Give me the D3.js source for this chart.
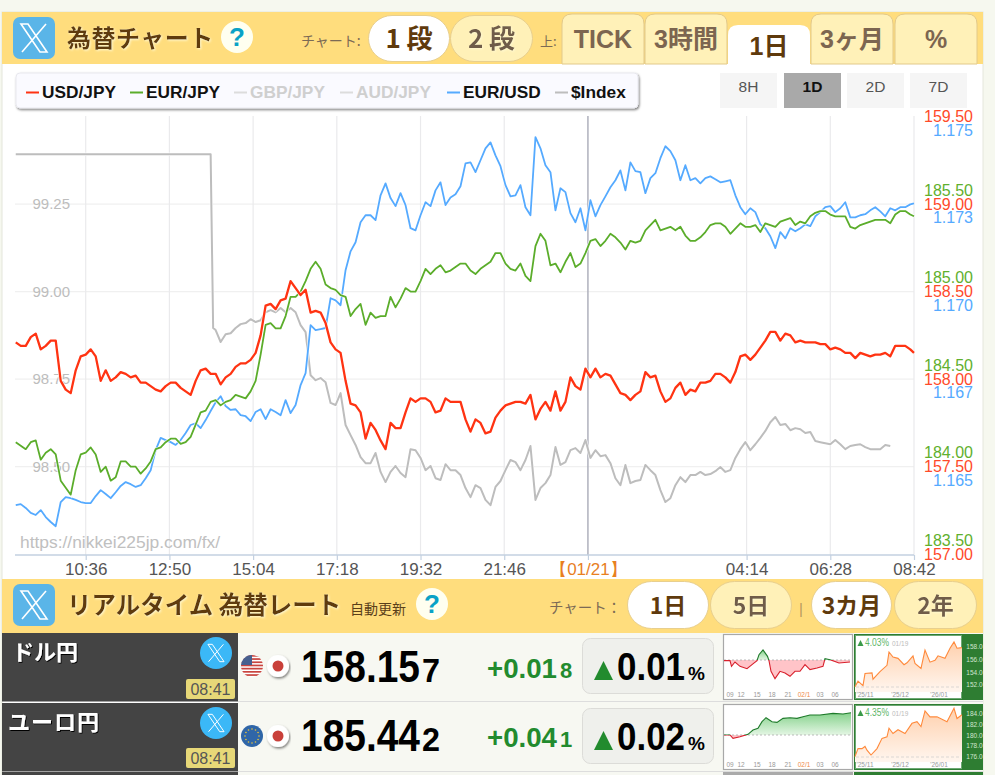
<!DOCTYPE html>
<html lang="ja"><head><meta charset="utf-8">
<script src="https://cdn.jsdelivr.net/npm/d3@7"></script>
<style>html,body{margin:0;padding:0;background:#f6f8ef;overflow:hidden}svg{display:block}</style>
</head><body><div id="c"></div>
<script>
// ---------- data ----------
const sampleMinutes = [...d3.range(2, 1440, 8), 1440];
const usdJpy = [158.21,158.19,158.19,158.24,158.26,158.17,158.19,158.22,158.22,157.99,157.94,157.92,158.05,158.13,158.14,158.17,158.13,157.99,158.05,157.99,158.01,158.04,158.03,158.01,158.02,157.98,157.98,157.96,157.94,157.93,157.96,157.98,157.98,157.95,157.93,157.91,157.99,158.05,158.06,158.03,158.03,157.97,158.01,158.03,158.07,158.09,158.09,158.11,158.15,158.25,158.42,158.43,158.40,158.45,158.46,158.56,158.52,158.48,158.51,158.38,158.39,158.38,158.32,158.21,158.17,158.15,157.99,157.86,157.85,157.81,157.66,157.75,157.71,157.65,157.60,157.75,157.72,157.72,157.81,157.89,157.87,157.89,157.89,157.87,157.81,157.82,157.89,157.87,157.87,157.87,157.77,157.70,157.77,157.75,157.69,157.70,157.78,157.82,157.85,157.86,157.87,157.87,157.86,157.91,157.77,157.83,157.87,157.82,157.93,157.82,157.87,158.01,157.96,157.94,158.06,158.01,158.06,158.01,158.03,158.02,157.97,157.92,157.91,157.88,157.91,157.93,158.04,158.01,158.02,157.93,157.87,157.89,157.95,157.98,157.91,157.94,157.93,157.98,157.98,157.99,158.03,158.03,158.01,157.98,158.04,158.13,158.14,158.11,158.14,158.18,158.22,158.27,158.27,158.22,158.26,158.25,158.21,158.22,158.21,158.21,158.21,158.20,158.20,158.17,158.18,158.17,158.15,158.15,158.12,158.15,158.14,158.13,158.14,158.14,158.15,158.13,158.19,158.19,158.19,158.17,158.15];
const eurJpy = [184.14,184.12,184.10,184.14,184.15,184.04,184.08,184.10,184.07,183.92,183.88,183.84,183.98,184.07,184.08,184.11,184.07,183.97,184.00,183.92,183.94,184.03,184.03,184.00,184.00,183.96,183.99,184.03,184.10,184.11,184.14,184.16,184.16,184.13,184.14,184.17,184.24,184.31,184.32,184.37,184.38,184.35,184.37,184.38,184.41,184.40,184.39,184.43,184.49,184.64,184.81,184.82,184.79,184.79,184.86,184.97,184.97,185.00,185.06,185.13,185.17,185.13,185.04,185.02,185.01,184.98,184.97,184.86,184.90,184.93,184.81,184.88,184.85,184.86,184.86,184.97,184.91,184.96,185.02,185.00,185.00,185.06,185.13,185.10,185.13,185.15,185.11,185.12,185.14,185.16,185.16,185.12,185.10,185.13,185.15,185.17,185.22,185.22,185.16,185.13,185.12,185.16,185.09,185.06,185.26,185.33,185.29,185.15,185.16,185.11,185.17,185.22,185.14,185.16,185.22,185.29,185.30,185.26,185.29,185.33,185.31,185.28,185.24,185.29,185.28,185.29,185.35,185.38,185.41,185.35,185.36,185.37,185.35,185.37,185.32,185.29,185.29,185.31,185.34,185.38,185.39,185.39,185.37,185.33,185.36,185.39,185.37,185.37,185.38,185.34,185.39,185.38,185.37,185.40,185.41,185.42,185.38,185.40,185.39,185.43,185.45,185.46,185.46,185.44,185.43,185.43,185.43,185.37,185.36,185.38,185.39,185.40,185.41,185.41,185.41,185.39,185.44,185.46,185.46,185.44,185.43];
const eurUsd = [1.16390,1.16393,1.16382,1.16368,1.16362,1.16376,1.16356,1.16342,1.16330,1.16399,1.16413,1.16410,1.16405,1.16399,1.16396,1.16396,1.16416,1.16433,1.16422,1.16410,1.16427,1.16445,1.16456,1.16450,1.16442,1.16447,1.16467,1.16490,1.16547,1.16582,1.16576,1.16570,1.16562,1.16576,1.16596,1.16619,1.16624,1.16610,1.16633,1.16659,1.16684,1.16701,1.16673,1.16662,1.16664,1.16647,1.16644,1.16630,1.16656,1.16664,1.16636,1.16664,1.16656,1.16647,1.16690,1.16653,1.16676,1.16733,1.16767,1.16904,1.16890,1.16893,1.16896,1.16981,1.16975,1.16961,1.17061,1.17115,1.17141,1.17198,1.17218,1.17218,1.17204,1.17275,1.17309,1.17267,1.17244,1.17281,1.17247,1.17181,1.17175,1.17218,1.17255,1.17244,1.17289,1.17312,1.17247,1.17269,1.17278,1.17301,1.17366,1.17369,1.17341,1.17375,1.17409,1.17426,1.17389,1.17358,1.17304,1.17272,1.17275,1.17304,1.17241,1.17218,1.17441,1.17409,1.17361,1.17341,1.17232,1.17295,1.17284,1.17224,1.17198,1.17238,1.17175,1.17261,1.17215,1.17247,1.17272,1.17298,1.17318,1.17346,1.17289,1.17369,1.17344,1.17341,1.17281,1.17324,1.17338,1.17381,1.17415,1.17401,1.17375,1.17318,1.17361,1.17318,1.17324,1.17309,1.17324,1.17329,1.17321,1.17312,1.17315,1.17318,1.17275,1.17241,1.17221,1.17238,1.17227,1.17192,1.17181,1.17158,1.17124,1.17170,1.17152,1.17181,1.17172,1.17181,1.17192,1.17187,1.17215,1.17227,1.17241,1.17244,1.17227,1.17238,1.17255,1.17212,1.17212,1.17218,1.17221,1.17232,1.17241,1.17229,1.17215,1.17238,1.17232,1.17241,1.17241,1.17249,1.17252];
const indexStepMinutes = [2, 314, 318];
const indexStepValues = [99.392, 99.392, 98.896];
const indexFirstSample = 40;
const dollarIndex = [98.890,98.856,98.878,98.881,98.896,98.907,98.910,98.921,98.913,98.918,98.941,98.947,98.941,98.953,98.941,98.953,98.941,98.904,98.884,98.761,98.747,98.753,98.741,98.682,98.676,98.710,98.619,98.590,98.562,98.527,98.510,98.510,98.539,98.485,98.456,98.485,98.502,98.482,98.470,98.550,98.547,98.525,98.490,98.502,98.467,98.462,98.507,98.490,98.490,98.476,98.439,98.413,98.447,98.439,98.405,98.390,98.442,98.459,98.490,98.519,98.513,98.490,98.519,98.559,98.405,98.439,98.453,98.476,98.556,98.505,98.513,98.547,98.553,98.539,98.576,98.525,98.547,98.530,98.533,98.510,98.467,98.447,98.505,98.453,98.459,98.462,98.505,98.490,98.476,98.433,98.399,98.410,98.447,98.470,98.456,98.476,98.476,98.485,98.476,98.479,98.487,98.499,98.485,98.490,98.525,98.550,98.570,98.547,98.564,98.582,98.602,98.627,98.642,98.619,98.622,98.604,98.610,98.607,98.596,98.599,98.573,98.570,98.567,98.564,98.576,98.564,98.550,98.559,98.562,98.564,98.556,98.550,98.550,98.550,98.562,98.559];
const xTickMinutes = [114, 248, 382, 516, 650, 784, 918, 1172, 1306, 1440];
const xTickLabels = ["10:36","12:50","15:04","17:18","19:32","21:46","【01/21】","04:14","06:28","08:42"];
const indexTicks = [99.25, 99.00, 98.75, 98.50];
const usdTicks = [159.5, 159, 158.5, 158, 157.5, 157];
const eurTicks = [185.5, 185, 184.5, 184, 183.5];
const eurUsdTicks = [1.175, 1.1725, 1.17, 1.1675, 1.165];
const eurUsdTickLabels = ["1.175","1.173","1.170","1.167","1.165"];
const legendNames = ["USD/JPY","EUR/JPY","GBP/JPY","AUD/JPY","EUR/USD","$Index"];
const rangeNames = ["8H","1D","2D","7D"];
const pairNames = ["ドル円","ユーロ円"];
const pairTimes = ["08:41","08:41"];
const priceMain = ["158.15","185.44"];
const priceTail = ["7","2"];
const changeMain = ["+0.01","+0.04"];
const changeTail = ["8","1"];
const percentChange = ["0.01","0.02"];
const dayIdx1 = [0,6,7.5,11,16,23,28,33,35,39,43.5,45,47,51,56,61,66,71,76,81,86,93,99,101,106,115,126];
const dayVal1 = [-0.02,-0.02,-0.19,-0.06,-0.19,-0.26,-0.14,-0.02,0.16,0.30,0.11,-0.02,-0.34,-0.56,-0.34,-0.39,-0.49,-0.34,-0.34,-0.14,-0.29,-0.24,-0.19,0.04,0.01,-0.09,-0.06];
const dayIdx2 = [0,6,9,16,24,29,34,38,42,48,53,59,66,73,79,86,96,109,119,127];
const dayVal2 = [0,0,-0.1,-0.05,0.02,0.15,0.2,0.4,0.52,0.4,0.38,0.5,0.52,0.5,0.55,0.6,0.6,0.65,0.63,0.67];
const dayAxisLabels = ["09","12","15","18","21","02/1","03","06"];
const dayAxisIdx = [6,17,33,48,64,80,96,111];
const monthIdx1 = [0,3,8,10,17,18,25,32,34,38,43,49,52,58,60,66,70,75,80,83,90,95,99,102,107];
const monthVal1 = [151.7,152.6,151.9,153.8,153.9,152.9,154.1,155.1,157.2,156.4,156.2,155.2,155.5,156.6,155.4,154.6,157.5,155.6,155.9,156.6,156.2,157.8,158.8,157.8,157.9];
const monthIdx2 = [0,3,7,10,12,16,22,27,32,34,38,43,50,57,62,66,70,75,82,92,99,102,107];
const monthVal2 = [176.0,177.5,177.5,177.9,177.2,176.3,177.5,179.4,179.7,181.3,180.3,181.0,180.3,182.2,182.5,181.6,184.5,183.4,183.4,182.5,185.0,183.1,183.8];
const monthTicks = [[158,156,154,152],[184,182,180,178,176]];
const monthDomains = [[150,160],[174,186]];
const monthPct = ["4.03%","4.35%"];
const monthAxisLabels = ["'25/11","'25/12","'26/01"];
const monthAxisIdx = [10,45,84];

// ---------- page ----------
const JP = "'Noto Sans CJK JP','Noto Sans',sans-serif", LAT = "'Liberation Sans',Arial,sans-serif";
const BAND = "#ffdd7d", PALE = "#fff1b8", BROWN = "#5f3a0c";
const svg = d3.select("#c").append("svg").attr("width",995).attr("height",775);
const defs = svg.append("defs");
const glow = defs.append("filter").attr("id","glow").attr("x","-10%").attr("y","-20%").attr("width","120%").attr("height","140%");
glow.append("feDropShadow").attr("dx",1).attr("dy",1).attr("stdDeviation",0.8).attr("flood-color","#fff8d0").attr("flood-opacity",1);
const sh = defs.append("filter").attr("id","sh").attr("x","-5%").attr("y","-10%").attr("width","110%").attr("height","125%");
sh.append("feDropShadow").attr("dx",1).attr("dy",1.5).attr("stdDeviation",0.8).attr("flood-color","#000").attr("flood-opacity",.5);
const dk = defs.append("filter").attr("id","dk").attr("x","-5%").attr("y","-10%").attr("width","110%").attr("height","120%");
dk.append("feDropShadow").attr("dx",1).attr("dy",1).attr("stdDeviation",0.3).attr("flood-color","#000").attr("flood-opacity",1);

function T(x,y,s,o={}){
  const t = (o.g||svg).append("text").attr("x",x).attr("y",y).text(s)
    .attr("font-family",o.f||LAT).attr("font-size",o.s||14).attr("font-weight",o.w||400)
    .attr("fill",o.c||"#333").attr("text-anchor",o.a||"start");
  if(o.ls!==undefined) t.attr("letter-spacing",o.ls);
  if(o.tl) t.attr("textLength",o.tl).attr("lengthAdjust","spacingAndGlyphs");
  if(o.fl) t.attr("filter",`url(#${o.fl})`);
  return t;
}
function R(x,y,w,h,c,o={}){
  const r=(o.g||svg).append("rect").attr("x",x).attr("y",y).attr("width",w).attr("height",h).attr("fill",c);
  if(o.rx) r.attr("rx",o.rx);
  if(o.st) r.attr("stroke",o.st).attr("stroke-width",o.sw||1);
  if(o.fl) r.attr("filter",`url(#${o.fl})`);
  return r;
}
function xIcon(cx,cy,k){
  const g=svg.append("g").attr("transform",`translate(${cx},${cy}) scale(${k})`).attr("fill","none").attr("stroke","#fff");
  g.append("path").attr("d","M-13,-14 L-6,-14 L13,14 L6,14 Z").attr("stroke-width",1.6);
  g.append("path").attr("d","M12,-14 L-12,14").attr("stroke-width",1.6);
}
function pill(x,y,w,h,active,label,size){
  R(x+.5,y+.5,w-1,h-1,active?"#fff":PALE,{rx:h/2,st:"#e8cf8e"});
  T(x+w/2,y+h/2+size*.37,label,{a:"middle",s:size,w:700,f:JP,c:active?BROWN:"#6f5c48",fl:active?null:"glow"});
}
function tab(x,y,w,h,active,label){
  const r=10;
  svg.append("path").attr("d",`M${x},${y+h}V${y+r}Q${x},${y} ${x+r},${y}H${x+w-r}Q${x+w},${y} ${x+w},${y+r}V${y+h}Z`)
    .attr("fill",active?"#fff":PALE).attr("stroke",active?"none":"#e2c98a");
  T(x+w/2,y+h/2+(active?10:9),label,{a:"middle",s:25,w:700,f:JP.replace("'Noto","'Liberation Sans','Noto"),c:active?BROWN:"#7c6550"});
}
function help(cx,cy){
  svg.append("circle").attr("cx",cx).attr("cy",cy).attr("r",16).attr("fill","#fffff0");
  T(cx,cy+9,"?",{a:"middle",s:26,w:700,c:"#0aa2c6"});
}

// panel + headers
R(2,12,981,763,"#fff",{st:"#e4e6dc"});
R(2,12,981,52,BAND);
R(2,579,981,54,BAND);
R(13,17,42,42,"#5ab5e8",{rx:7}); xIcon(34,38,1);
T(67,47,"為替チャート",{s:24,w:700,f:JP,c:BROWN,ls:0.5,fl:"glow"});
help(237,37);
T(301,46,"チャート:",{s:14,f:JP,c:"#7c6a55"});
pill(368,15,82,47,true,"1 段",26);
pill(450,15,83,47,false,"2 段",26);
T(540,46,"上:",{s:13,f:JP,c:"#7c6a55"});
tab(562,14,82,50,false,"TICK");
tab(645,14,82,50,false,"3時間");
tab(728,25,82,39,true,"1日");
tab(811,14,82,50,false,"3ヶ月");
tab(895,14,82,50,false,"%");

// scales
const x = d3.scaleLinear().domain([0,1440]).range([14.5,914]);
const yUsd = d3.scaleLinear().domain([157,159.5]).range([554.2,116.5]);
const yEur = d3.scaleLinear().domain([183.5,186]).range([554.2,116.5]);
const yEu = d3.scaleLinear().domain([1.1625,1.175]).range([554.2,116.5]);
const yIdx = d3.scaleLinear().domain([98.25,99.5]).range([554.2,116.5]);

// grid
const grid = svg.append("g");
grid.selectAll("line.h").data(usdTicks).join("line").attr("x1",15).attr("x2",914)
  .attr("y1",d=>yUsd(d)).attr("y2",d=>yUsd(d)).attr("stroke",d=>d===159.5||d===157?"none":"#f0f0f0").attr("stroke-width",1.2);
grid.selectAll("line.v").data(xTickMinutes).join("line").attr("x1",d=>x(d)).attr("x2",d=>x(d))
  .attr("y1",116).attr("y2",555).attr("stroke",(d,i)=>i===6?"#a9abb8":"#eaeaec").attr("stroke-width",(d,i)=>i===6?1.4:1.2);

// x axis
const ax = svg.append("g").attr("transform","translate(0,555)")
  .call(d3.axisBottom(x).tickValues(xTickMinutes).tickFormat((d,i)=>xTickLabels[i]).tickSize(5));
ax.select(".domain").attr("stroke","#c3d0e0").attr("stroke-width",1.5).attr("d","M15,0H914");
ax.selectAll(".tick line").attr("stroke","#c3d0e0").attr("stroke-width",1.2);
ax.selectAll("text").attr("font-family",LAT).attr("font-size",17).attr("fill",(d,i)=>i===6?"#e8801f":"#555").attr("y",6).attr("dy",".85em");

// index axis labels + watermark
T(20,548,"https://nikkei225jp.com/fx/",{s:17.4,c:"#c0c0c0"});
indexTicks.forEach(d=>T(70,yIdx(d)+5,d.toFixed(2),{a:"end",s:15,c:"#bdbdbd"}));
// right axis labels
usdTicks.forEach(d=>T(973,yUsd(d)+5.5,d.toFixed(2),{a:"end",s:16,c:"#ff4a2a"}));
eurTicks.forEach(d=>T(973,yEur(d)-8.5,d.toFixed(2),{a:"end",s:16,c:"#5fb02e"}));
eurUsdTicks.forEach((d,i)=>T(973,yEu(d)+19,eurUsdTickLabels[i],{a:"end",s:16,c:"#55aaff"}));

// lines
const zip=(ts,vs)=>vs.map((v,i)=>[ts[i],v]);
const indexPts = zip(indexStepMinutes,indexStepValues).concat(zip(sampleMinutes.slice(indexFirstSample),dollarIndex));
const series = [
 {pts:indexPts,y:yIdx,c:"#bdbdbd",w:2},
 {pts:zip(sampleMinutes,eurUsd),y:yEu,c:"#55aaff",w:1.8},
 {pts:zip(sampleMinutes,eurJpy),y:yEur,c:"#5bad2b",w:1.8},
 {pts:zip(sampleMinutes,usdJpy),y:yUsd,c:"#ff3312",w:2.3}
];
const plot = svg.append("g");
series.forEach(s=>{
  const gen=d3.line().x(d=>x(d[0])).y(d=>s.y(d[1]));
  plot.append("path").attr("d",gen(s.pts)).attr("fill","none").attr("stroke","#fff").attr("stroke-width",s.w+1.4).attr("stroke-opacity",.8);
  plot.append("path").attr("d",gen(s.pts)).attr("fill","none").attr("stroke",s.c).attr("stroke-width",s.w).attr("stroke-linejoin","round");
});

// legend
R(16,73,622,35,"#fafaff",{rx:4,st:"#e8e8ee",fl:"sh"});
const legX=[42,146,250,356,463,571], legC=["#ff3312","#5bad2b","#dcdcdc","#dcdcdc","#55aaff","#bdbdbd"];
legendNames.forEach((n,i)=>{
  svg.append("line").attr("x1",legX[i]-16).attr("x2",legX[i]-3).attr("y1",92.5).attr("y2",92.5).attr("stroke",legC[i]).attr("stroke-width",2);
  T(legX[i],98,n,{s:17.3,w:700,c:(i===2||i===3)?"#cfcfcf":"#111"});
});
// range buttons
const rbX=[720,784,847,910];
rangeNames.forEach((n,i)=>{
  R(rbX[i],73,57,35,i===1?"#a9a9a9":"#f5f5f5");
  T(rbX[i]+28.5,92,n,{a:"middle",s:15.5,w:i===1?700:400,c:i===1?"#111":"#555"});
});

// lower header
R(13,584,42,42,"#5ab5e8",{rx:7}); xIcon(34,605,1);
T(67,614,"リアルタイム 為替レート",{s:24.5,w:700,f:JP,c:BROWN,fl:"glow"});
T(350,614,"自動更新",{s:14,f:JP,c:"#5a3f1a"});
help(432,604);
T(549,613,"チャート：",{s:14.5,f:JP,c:"#7c6a55"});
pill(627,581,82,48,true,"1日",23);
pill(710,581,82,48,false,"5日",23);
T(801,614,"|",{s:15,c:"#b9995f",a:"middle"});
pill(811,581,81,48,true,"3カ月",23);
pill(894,581,83,48,false,"2年",23);

// table rows
R(238,633,745,142,"#f7f8f2");
R(2,772,236,3,"#444");
R(723,772,130,3,"#aaa"); R(854,772,129,3,"#2e7d32");
pairNames.forEach((name,r)=>{
  const dy=r*70, top=633+dy;
  R(2,top,236,68.5,"#444");
  svg.append("line").attr("x1",238).attr("x2",983).attr("y1",top+68.5).attr("y2",top+68.5).attr("stroke","#ddd");
  T(r?8:12,top+27,name,{s:22,w:700,f:JP,c:"#fff",fl:"dk",ls:r?1:0});
  svg.append("circle").attr("cx",216).attr("cy",653+dy).attr("r",16).attr("fill","#3bb8f7"); xIcon(216,653+dy,.62);
  R(186,679+dy-(r?1:0),49,20,"#e7d878",{rx:2});
  T(210.5,695+dy-(r?1:0),pairTimes[r],{a:"middle",s:16,c:"#555"});
  // flags
  const fy=666+dy;
  if(r===0){
    const id="usClip"; defs.append("clipPath").attr("id",id).append("circle").attr("cx",252).attr("cy",fy).attr("r",11);
    const f=svg.append("g").attr("clip-path",`url(#${id})`);
    R(241,fy-11,22,22,"#fff",{g:f});
    d3.range(7).forEach(k=>R(241,fy-11+k*3.2,22,1.7,"#c9453f",{g:f}));
    R(241,fy-11,11,10,"#47608f",{g:f});
  } else {
    svg.append("circle").attr("cx",252).attr("cy",fy).attr("r",11).attr("fill","#2f66a8");
    d3.range(12).forEach(k=>svg.append("circle").attr("cx",252+7*Math.cos(k*Math.PI/6)).attr("cy",fy+7*Math.sin(k*Math.PI/6)).attr("r",.8).attr("fill","#e8c53a"));
  }
  svg.append("circle").attr("cx",278).attr("cy",fy).attr("r",11).attr("fill","#fff").attr("filter","url(#sh)");
  svg.append("circle").attr("cx",278).attr("cy",fy).attr("r",5.5).attr("fill","#c9403a");
  // price
  T(301,682+dy-(r?1:0),priceMain[r],{s:44,w:700,c:"#000",tl:119});
  T(422,682+dy-(r?1:0),priceTail[r],{s:33,w:700,c:"#000",tl:18});
  T(487,678+dy-(r?1:0),changeMain[r],{s:27.5,w:700,c:"#228b2e",tl:70});
  T(560,678+dy-(r?1:0),changeTail[r],{s:22,w:700,c:"#228b2e"});
  R(582.5,638.5+dy,131,55,"#eff0ec",{rx:8,st:"#dcdcd8"});
  const ty=r?750:680;
  svg.append("path").attr("d",`M594,${ty}L613,${ty}L603.5,${ty-19}Z`).attr("fill","#228b2e");
  T(617,ty,percentChange[r],{s:38,w:700,c:"#000",tl:68});
  T(688,ty,"%",{s:19,w:700,c:"#000"});
  // day sparkline
  const idx=r?dayIdx2:dayIdx1, val=r?dayVal2:dayVal1;
  R(723.5,634.5+dy,129,65,"#fff",{st:"#a8a8a8",sw:1.2});
  const sx=d3.scaleLinear().domain([0,127]).range([724,851]);
  const base=r?735:660;
  const sy=d3.scaleLinear().domain([0,1]).range([base,base-33.3]);
  const pts=zip(idx,val);
  const gid="gd"+r, lg=defs.append("linearGradient").attr("id",gid).attr("x1",0).attr("x2",0).attr("y1",0).attr("y2",1);
  lg.append("stop").attr("offset",0).attr("stop-color","#86d28c"); lg.append("stop").attr("offset",1).attr("stop-color","#e4f6e4");
  svg.append("path").attr("d",d3.area().x(d=>sx(d[0])).y0(base).y1(d=>sy(Math.min(d[1],0)))(pts)).attr("fill","#ffc4c8");
  svg.append("path").attr("d",d3.area().x(d=>sx(d[0])).y0(base).y1(d=>sy(Math.max(d[1],0)))(pts)).attr("fill",`url(#${gid})`);
  svg.append("line").attr("x1",724).attr("x2",851).attr("y1",base).attr("y2",base).attr("stroke","#aaa").attr("stroke-dasharray","2,2").attr("stroke-width",.8);
  const lineDay=d3.line().x(d=>sx(d[0])).y(d=>sy(d[1]));
  defs.append("clipPath").attr("id","cu"+r).append("rect").attr("x",724).attr("y",634+dy).attr("width",128).attr("height",base-634-dy);
  defs.append("clipPath").attr("id","cd"+r).append("rect").attr("x",724).attr("y",base).attr("width",128).attr("height",700+dy-base);
  svg.append("path").attr("d",lineDay(pts)).attr("fill","none").attr("stroke","#1e7a2a").attr("stroke-width",1.1).attr("clip-path",`url(#cu${r})`);
  svg.append("path").attr("d",lineDay(pts)).attr("fill","none").attr("stroke","#d8202c").attr("stroke-width",1.1).attr("clip-path",`url(#cd${r})`);
  dayAxisLabels.forEach((l,i)=>T(sx(dayAxisIdx[i]),697+dy,l,{a:"middle",s:6.5,c:i===5?"#f08a4a":"#999"}));
  // month sparkline
  R(854,634+dy,129,66,"#2e7d32");
  R(855.5,635.5+dy,106,63,"#fff",{st:"#6da873",sw:1});
  const mi=r?monthIdx2:monthIdx1, mv=r?monthVal2:monthVal1;
  const mx=d3.scaleLinear().domain([0,107]).range([855,962]);
  const my=d3.scaleLinear().domain(monthDomains[r]).range(r?[767.4,702.9]:[697.6,634.3]);
  const gm="gm"+r, lm=defs.append("linearGradient").attr("id",gm).attr("x1",0).attr("x2",0).attr("y1",0).attr("y2",1);
  lm.append("stop").attr("offset",0).attr("stop-color","#ffd0ad"); lm.append("stop").attr("offset",1).attr("stop-color","#fff6ef");
  const mp=zip(mi,mv);
  svg.append("path").attr("d",d3.area().x(d=>mx(d[0])).y0(692+dy).y1(d=>my(d[1]))(mp)).attr("fill",`url(#${gm})`);
  svg.append("path").attr("d",d3.line().x(d=>mx(d[0])).y(d=>my(d[1]))(mp)).attr("fill","none").attr("stroke","#ff8a3c").attr("stroke-width",1.1);
  svg.append("line").attr("x1",856).attr("x2",961).attr("y1",687+dy).attr("y2",687+dy).attr("stroke","#ccc").attr("stroke-dasharray","3,2").attr("stroke-width",.7);
  svg.append("path").attr("d",`M857.5,${646+dy}L863.5,${646+dy}L860.5,${640+dy}Z`).attr("fill","#3a9a48");
  T(865,646+dy,monthPct[r],{s:10,c:"#5db568",tl:24});
  T(892,646+dy,"01/19",{s:6.5,c:"#bbb"});
  monthAxisLabels.forEach((l,i)=>T(mx(monthAxisIdx[i]),697+dy,l,{a:"middle",s:6.5,c:"#999"}));
  monthTicks[r].forEach(v=>T(974.5,my(v)+2.5,v.toFixed(1),{a:"middle",s:6.5,c:"#cfe5cf"}));
});
</script></body></html>
